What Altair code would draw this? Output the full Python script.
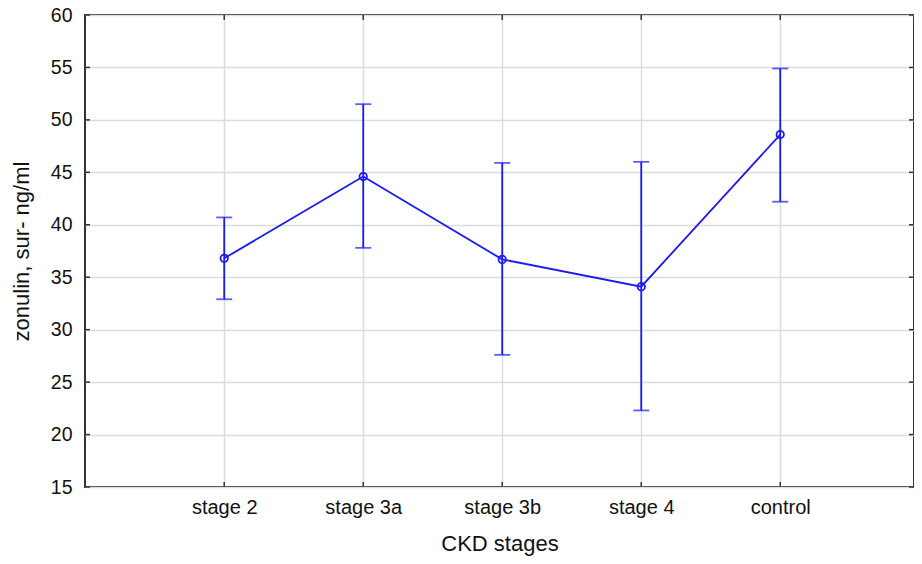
import altair as alt
import pandas as pd

stages = ["stage 2", "stage 3a", "stage 3b", "stage 4", "control"]
means = [36.8, 44.6, 36.7, 34.1, 48.6]
upper = [40.7, 51.5, 45.9, 46.0, 54.9]
lower = [32.9, 37.8, 27.6, 22.3, 42.2]
y_ticks = [15, 20, 25, 30, 35, 40, 45, 50, 55, 60]

df = pd.DataFrame({"stage": stages, "mean": means, "upper": upper, "lower": lower})
ticks_df = pd.DataFrame({"v": y_ticks})

W, H = 829, 472
BLUE = "#1a1af2"
TICK = "#333333"
TL = 5

xscale = alt.Scale(type="point", padding=0.982, align=0.51)
yscale = alt.Scale(domain=[15, 60], nice=False, zero=False)

x_axis = alt.Axis(title="CKD stages", labelAngle=0, grid=True, tickSize=0,
                  labelPadding=10, titlePadding=16, domain=False, labelFontSize=20)
y_axis = alt.Axis(title="zonulin, sur- ng/ml", values=y_ticks, grid=True, tickSize=0,
                  labelPadding=13, titlePadding=17, domain=False, labelFontSize=19.5)


def X():
    return alt.X("stage:N", sort=stages, scale=xscale, axis=x_axis, title="CKD stages")


def Y(field):
    return alt.Y(field, scale=yscale, axis=y_axis, title="zonulin, sur- ng/ml")


base = alt.Chart(df)

err = base.mark_rule(color=BLUE, strokeWidth=1.8).encode(x=X(), y=Y("lower:Q"), y2="upper:Q")
cap_hi = base.mark_tick(color=BLUE, size=16, thickness=1.8).encode(x=X(), y=Y("upper:Q"))
cap_lo = base.mark_tick(color=BLUE, size=16, thickness=1.8).encode(x=X(), y=Y("lower:Q"))
line = base.mark_line(color=BLUE, strokeWidth=1.8).encode(x=X(), y=Y("mean:Q"))
pts = base.mark_point(filled=False, size=55, color=BLUE, strokeWidth=1.8, opacity=1).encode(
    x=X(), y=Y("mean:Q")
)

# inward tick marks on all four sides of the frame
tick_left = alt.Chart(ticks_df).mark_rule(color=TICK, strokeWidth=1.5).encode(
    y=Y("v:Q"), x=alt.value(0), x2=alt.value(TL)
)
tick_right = alt.Chart(ticks_df).mark_rule(color=TICK, strokeWidth=1.5).encode(
    y=Y("v:Q"), x=alt.value(W - TL), x2=alt.value(W)
)
tick_bottom = base.mark_rule(color=TICK, strokeWidth=1.5).encode(
    x=X(), y=alt.value(H - TL), y2=alt.value(H)
)
tick_top = base.mark_rule(color=TICK, strokeWidth=1.5).encode(
    x=X(), y=alt.value(0), y2=alt.value(TL)
)

chart = alt.layer(
    line, err, cap_hi, cap_lo, pts, tick_left, tick_right, tick_bottom, tick_top
).properties(
    width=W, height=H,
    autosize=alt.AutoSizeParams(type="none"),
    padding={"left": 77, "top": 7, "right": 0, "bottom": 69},
).configure_view(
    stroke="#333333", strokeWidth=2
).configure_axis(
    labelFont="Liberation Sans", titleFont="Liberation Sans",
    titleFontSize=22, titleFontWeight="normal",
    labelColor="#111111", titleColor="#111111",
    gridColor="#dcdcdc", gridWidth=1.5,
)

chart.save("out.html", embed_options={"renderer": "svg", "actions": False})
